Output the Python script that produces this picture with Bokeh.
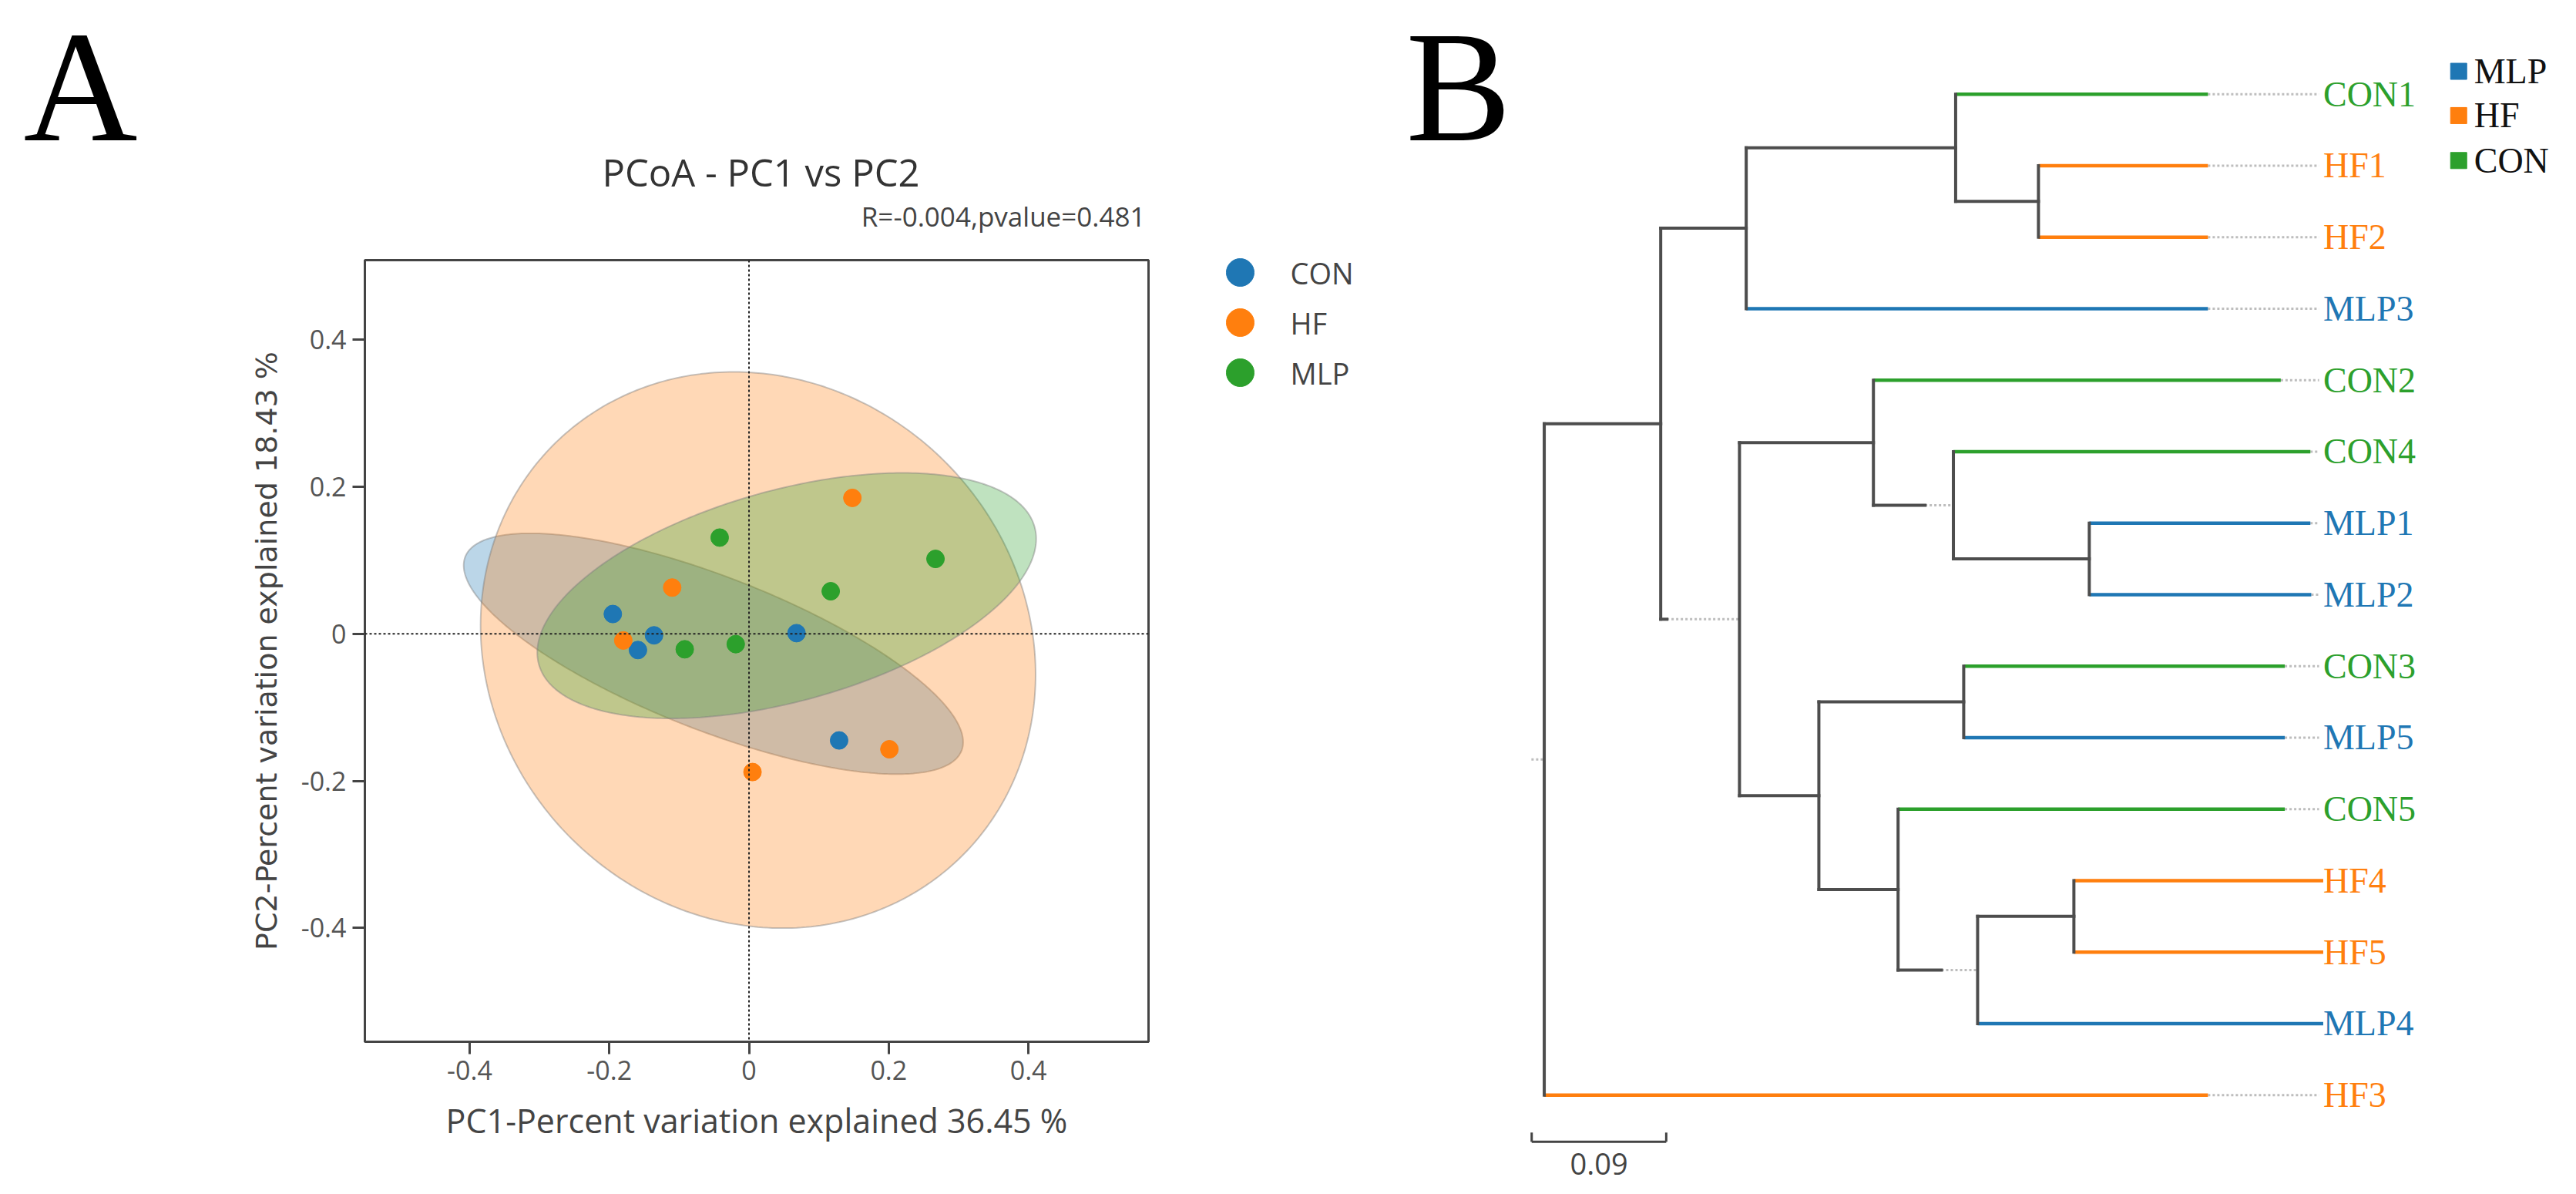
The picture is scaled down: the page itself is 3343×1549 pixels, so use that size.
import numpy as np
from bokeh.plotting import figure
from bokeh.models import Range1d, FixedTicker, Span, ColumnDataSource
from bokeh.layouts import row, column
from bokeh.embed import file_html
from bokeh.resources import INLINE
from bokeh.core.properties import value

# ---------------- Panel A data (PCoA) ----------------
groups_a = ["CON", "HF", "MLP"]
con_pc1 = [-0.195, -0.136, -0.159, 0.068, 0.129]
con_pc2 = [0.027, -0.002, -0.022, 0.001, -0.145]
hf_pc1 = [-0.110, -0.180, 0.148, 0.201, 0.005]
hf_pc2 = [0.063, -0.009, 0.185, -0.157, -0.188]
mlp_pc1 = [-0.042, -0.092, -0.019, 0.117, 0.267]
mlp_pc2 = [0.131, -0.021, -0.014, 0.058, 0.102]

# confidence ellipses: CON, HF, MLP
ell_cx = [-0.051, 0.013, 0.054]
ell_cy = [-0.027, -0.022, 0.052]
ell_a = [0.379, 0.407, 0.367]
ell_b = [0.105, 0.368, 0.144]
ell_angle = [-20.2, -30.5, 14.5]

tick_vals = [-0.4, -0.2, 0, 0.2, 0.4]
tick_labels = ["-0.4", "-0.2", "0", "0.2", "0.4"]

panel_a_letter = "A"
title_a = "PCoA - PC1 vs PC2"
stat_text = "R=-0.004,pvalue=0.481"
xlabel_a = "PC1-Percent variation explained 36.45 %"
ylabel_a = "PC2-Percent variation explained 18.43 %"

# ---------------- Panel B data (tree) ----------------
panel_b_letter = "B"
leaf_names = ["CON1", "HF1", "HF2", "MLP3", "CON2", "CON4", "MLP1", "MLP2",
              "CON3", "MLP5", "CON5", "HF4", "HF5", "MLP4", "HF3"]
leaf_groups = ["CON", "HF", "HF", "MLP", "CON", "CON", "MLP", "MLP",
               "CON", "MLP", "CON", "HF", "HF", "MLP", "HF"]
leaf_parent = ["N3", "N4", "N4", "N2", "N6", "N7", "N8", "N8",
               "N10", "N10", "N11", "N12", "N12", "N13", "root"]
leaf_depth = [0.444, 0.444, 0.444, 0.444, 0.4927, 0.5125, 0.5125, 0.5131,
              0.4954, 0.4954, 0.4954, 0.5211, 0.5211, 0.5211, 0.444]
node_names = ["root", "N1", "N2", "N3", "N4", "N5", "N6", "N7", "N8", "N9",
              "N10", "N11", "N12", "N13"]
node_parent = [None, "root", "N1", "N2", "N3", "N1", "N5", "N6", "N7", "N5",
               "N9", "N9", "N13", "N11"]
node_depth = [0.0, 0.0779, 0.1351, 0.2752, 0.3306, 0.1306, 0.2202, 0.2737,
              0.3646, 0.1837, 0.2806, 0.2367, 0.3543, 0.2899]
node_solid = [0.0, 0.0779, 0.1351, 0.2752, 0.3306, 0.082, 0.2202, 0.2547,
              0.3646, 0.1837, 0.2806, 0.2367, 0.3543, 0.2657]
tip_align = 0.5183
label_x = 0.5211
root_stub = 0.0086
scale_bar_len = 0.09
scale_bar_label = "0.09"
legend_b_groups = ["MLP", "HF", "CON"]

# ---------------- styles ----------------
col_a = {"CON": "#1f77b4", "HF": "#ff7f0e", "MLP": "#2ca02c"}
col_b = {"MLP": "#1f77b4", "HF": "#ff7f0e", "CON": "#2ca02c"}

H = 1545          # page height used
HEAD_H = 329      # height of the band above panel A's plot
W_A = 1808        # width of panel A column
W_PA = 1500       # width of the PCoA figure itself
W_B = 1532        # width of panel B


def no_align(p):
    try:
        p.frame_align = False
    except Exception:
        pass


def bare(width, height, xr, yr):
    f = figure(width=width, height=height, x_range=xr, y_range=yr,
               output_backend="svg", toolbar_location=None, min_border=0,
               x_axis_location=None, y_axis_location=None, outline_line_color=None)
    f.grid.visible = False
    no_align(f)
    return f


# ================= Panel A header (letter, title, statistic) =================
head = bare(W_A, HEAD_H, Range1d(0, W_A), Range1d(HEAD_H, 0))
head.text(x=[30], y=[112], text=[panel_a_letter], text_color="#000000",
          text_font=value("Liberation Serif"), text_font_size=value("205px"),
          text_baseline="middle", text_align="left")
head.text(x=[987], y=[222], text=[title_a], text_color="#333333",
          text_font=value("Open Sans"), text_font_size=value("49px"),
          text_baseline="middle", text_align="center")
head.text(x=[1486], y=[280], text=[stat_text], text_color="#444444",
          text_font=value("Open Sans"), text_font_size=value("35px"),
          text_baseline="middle", text_align="right")

# ================= Panel A plot =================
FL, FT, FW, FH = 473, 8, 1017, 1014
HA = H - HEAD_H
pA = figure(width=W_PA, height=HA, x_range=Range1d(-0.55, 0.572),
            y_range=Range1d(-0.555, 0.5085), output_backend="svg",
            toolbar_location=None, min_border_left=FL,
            min_border_right=W_PA - FL - FW, min_border_top=FT,
            min_border_bottom=HA - FT - FH)
no_align(pA)
pA.grid.visible = False
pA.outline_line_color = "#444444"
pA.outline_line_width = 3
pA.outline_line_alpha = 1

t = np.linspace(0, 2 * np.pi, 361)
for g, cx, cy, a, b, ang in zip(groups_a, ell_cx, ell_cy, ell_a, ell_b, ell_angle):
    th = np.deg2rad(ang)
    ex = cx + a * np.cos(t) * np.cos(th) - b * np.sin(t) * np.sin(th)
    ey = cy + a * np.cos(t) * np.sin(th) + b * np.sin(t) * np.cos(th)
    pA.patch(ex, ey, fill_color=col_a[g], fill_alpha=0.3,
             line_color="#7f7f7f", line_alpha=0.45, line_width=2)

pA.scatter(con_pc1, con_pc2, size=23, color=col_a["CON"], marker="circle")
pA.scatter(hf_pc1, hf_pc2, size=23, color=col_a["HF"], marker="circle")
pA.scatter(mlp_pc1, mlp_pc2, size=23, color=col_a["MLP"], marker="circle")

pA.add_layout(Span(location=0, dimension="height", line_color="#222222",
                   line_dash="3 3", line_width=2))
pA.add_layout(Span(location=0, dimension="width", line_color="#222222",
                   line_dash="3 3", line_width=2))

overrides = dict(zip(tick_vals, tick_labels))
for ax in (pA.xaxis[0], pA.yaxis[0]):
    ax.ticker = FixedTicker(ticks=tick_vals)
    ax.major_label_overrides = overrides
    ax.axis_line_color = "#444444"
    ax.axis_line_width = 3
    ax.major_tick_line_color = "#444444"
    ax.major_tick_line_width = 3
    ax.major_tick_out = 16
    ax.major_tick_in = 0
    ax.minor_tick_line_color = None
    ax.major_label_text_font = "Open Sans"
    ax.major_label_text_font_size = "34px"
    ax.major_label_text_color = "#555555"
    ax.major_label_standoff = 8
    ax.axis_label_text_font_style = "normal"
    ax.axis_label_text_color = "#444444"
pA.xaxis.axis_label = xlabel_a
pA.xaxis.axis_label_text_font = "Open Sans"
pA.xaxis.axis_label_text_font_size = "43px"
pA.xaxis.axis_label_standoff = 20
pA.yaxis.axis_label = ylabel_a
pA.yaxis.axis_label_text_font = "DejaVu Sans"
pA.yaxis.axis_label_text_font_size = "38px"
pA.yaxis.axis_label_standoff = 20
pA.yaxis.major_label_orientation = "horizontal"

# ================= Panel A legend (beside the plot) =================
legA = bare(W_A - W_PA, HA, Range1d(W_PA, W_A), Range1d(H, HEAD_H))
leg_a_y = [353, 418, 483]
legA.scatter([1609] * 3, leg_a_y, size=36, marker="circle",
             color=[col_a[g] for g in groups_a])
legA.text(x=[1674] * 3, y=leg_a_y, text=groups_a, text_color="#444444",
          text_font=value("Open Sans"), text_font_size=value("38px"),
          text_baseline="middle", text_align="left")

# ================= Panel B (tree) =================
pB = bare(W_B, H, Range1d(-0.1008, 0.6889), Range1d(15.3455, -1.3121))

depth = dict(zip(node_names, node_depth))
solid = dict(zip(node_names, node_solid))
parent = dict(zip(node_names, node_parent))
children = {n: [] for n in node_names}
for n, par in zip(node_names, node_parent):
    if par is not None:
        children[par].append(("node", n))
for i, par in enumerate(leaf_parent):
    children[par].append(("leaf", i))

ypos = {}


def node_y(n):
    if n in ypos:
        return ypos[n]
    ys = [node_y(c) if kind == "node" else c for kind, c in children[n]]
    ypos[n] = (min(ys) + max(ys)) / 2.0
    return ypos[n]


for n in node_names:
    node_y(n)

bx0, by0, bx1, by1 = [], [], [], []
dx0, dy0, dx1, dy1 = [], [], [], []
for n in node_names:
    ys = [ypos[c] if kind == "node" else c for kind, c in children[n]]
    bx0.append(depth[n]); bx1.append(depth[n]); by0.append(min(ys)); by1.append(max(ys))
    if parent[n] is not None:
        px = depth[parent[n]]
        bx0.append(px); bx1.append(solid[n]); by0.append(ypos[n]); by1.append(ypos[n])
        if solid[n] < depth[n]:
            dx0.append(solid[n]); dx1.append(depth[n]); dy0.append(ypos[n]); dy1.append(ypos[n])
dx0.append(-root_stub); dx1.append(0.0); dy0.append(ypos["root"]); dy1.append(ypos["root"])

lx0, ly, lx1, lc = [], [], [], []
for i, (par, d, g) in enumerate(zip(leaf_parent, leaf_depth, leaf_groups)):
    lx0.append(depth[par]); lx1.append(d); ly.append(i); lc.append(col_b[g])
    if d < tip_align - 1e-3:
        dx0.append(d); dx1.append(tip_align); dy0.append(i); dy1.append(i)

pB.segment(dx0, dy0, dx1, dy1, line_color="#bdbdbd", line_width=3, line_dash="3 3")
pB.segment(lx0, ly, lx1, ly, line_color=lc, line_width=4.5)
pB.segment(bx0, by0, bx1, by1, line_color="#4d4d4d", line_width=4, line_cap="square")

lab_src = ColumnDataSource(dict(x=[label_x] * len(leaf_names), y=list(range(len(leaf_names))),
                                text=leaf_names, color=[col_b[g] for g in leaf_groups]))
pB.text(x="x", y="y", text="text", source=lab_src, text_color="color",
        text_font=value("Liberation Serif"), text_font_size=value("46px"),
        text_baseline="middle", text_align="left")

# legend B
leg_b_y = [-0.32, 0.299, 0.928]
pB.scatter([0.6117] * 3, leg_b_y, marker="square", size=21,
           color=[col_b[g] for g in legend_b_groups])
pB.text(x=[0.622] * 3, y=leg_b_y, text=legend_b_groups, text_color="#111111",
        text_font=value("Liberation Serif"), text_font_size=value("46px"),
        text_baseline="middle", text_align="left")

# scale bar
sb_x0 = -0.0084
sb_y = 14.652
sb_tick = 14.524
pB.segment([sb_x0, sb_x0, sb_x0 + scale_bar_len], [sb_y, sb_y, sb_y],
           [sb_x0 + scale_bar_len, sb_x0, sb_x0 + scale_bar_len], [sb_y, sb_tick, sb_tick],
           line_color="#444444", line_width=3)
pB.text(x=[sb_x0 + scale_bar_len / 2], y=[14.96], text=[scale_bar_label],
        text_color="#444444", text_font=value("Open Sans"), text_font_size=value("38px"),
        text_baseline="middle", text_align="center")

pB.text(x=[-0.0925], y=[-0.105], text=[panel_b_letter], text_color="#000000",
        text_font=value("Liberation Serif"), text_font_size=value("205px"),
        text_baseline="middle", text_align="left")

layout = row(column(head, row(pA, legA)), pB)
open("out.html", "w").write(file_html(layout, INLINE))
